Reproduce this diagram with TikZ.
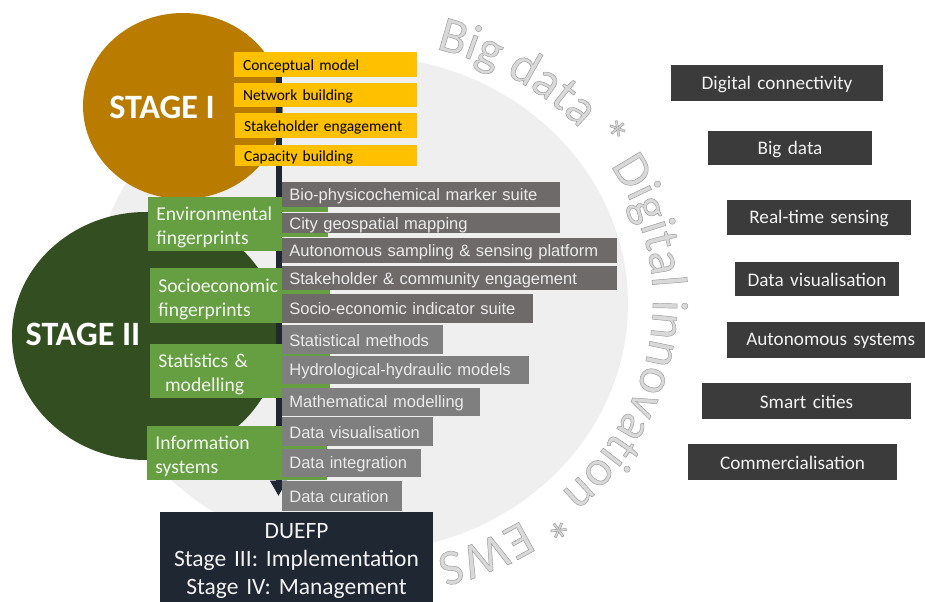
\documentclass[tikz,border=0pt]{standalone}
\usepackage{fontspec}
\setmainfont{Carlito}
\newfontfamily\barfont[WordSpace=1.5]{Liberation Sans}
\newfontfamily\yellowfont[WordSpace=1.3]{Carlito}
\newfontfamily\ringfont[RawFeature={embolden=0.9}]{Carlito}
\usetikzlibrary{decorations.text,arrows.meta}
\definecolor{goldc}{HTML}{B97C00}
\definecolor{forestc}{HTML}{334F21}
\definecolor{yellowc}{HTML}{FFC000}
\definecolor{greenc}{HTML}{659F41}
\definecolor{barA}{HTML}{6F6A6A}
\definecolor{barB}{HTML}{7F7F7F}
\definecolor{navyc}{HTML}{1F2733}
\definecolor{slatec}{HTML}{3B3B3B}
\definecolor{ringc}{HTML}{EFEFEF}
\newcommand{\bx}[7]{% name x1 y1 x2 y2 style text
  \path[#6] (#2,#3) rectangle (#4,#5);
  \node[#6,fill=none,text width={(#4-#2)*0.75pt-2*\pgfkeysvalueof{/pgf/inner xsep}},at={({(#2+#4)/2},{(#3+#5)/2+\boxdrop})}] (#1) {#7};}
\tikzset{
  base/.style={inner ysep=0pt,outer sep=0pt,draw=none},
  yellowbox/.style={base,fill=yellowc,inner xsep=6.8pt,align=left,text=black,/utils/exec={\def\boxdrop{1.6}},font=\yellowfont\fontsize{11.6}{13}\selectfont},
  greenbox/.style={base,fill=greenc,inner xsep=6.3pt,align=left,text=white!92!greenc,/utils/exec={\def\boxdrop{3.5}},font=\fontsize{14.7}{18}\selectfont},
  barbox/.style={base,inner xsep=5.5pt,align=left,text=white!92!black,/utils/exec={\def\boxdrop{2.2}},font=\barfont\fontsize{12.4}{14}\selectfont},
  barone/.style={barbox,fill=barA},
  barlow/.style={barbox,fill=barA,/utils/exec={\def\boxdrop{0.5}}},
  bartwo/.style={barbox,fill=barB,/utils/exec={\def\boxdrop{0.8}}},
  rightbox/.style={base,fill=slatec,inner xsep=0pt,align=center,text=white!95!black,/utils/exec={\def\boxdrop{1}},font=\fontsize{14.4}{16}\selectfont},
  duefpbox/.style={base,fill=navyc,inner xsep=0pt,align=center,text=white!95!black,/utils/exec={\def\boxdrop{4}},font=\fontsize{17.6}{21.3}\selectfont},
  stagelabel/.style={text=white,font=\bfseries\fontsize{25.6}{28}\selectfont,inner sep=0pt},
  flowline/.style={navyc,line width=4.5pt,-{Triangle[length=11.5pt,width=12pt]}},
  underl/.style={greenc}
}
\begin{document}
\begin{tikzpicture}[x=0.75pt,y=-0.75pt]
\useasboundingbox (0,0) rectangle (925,602);
\fill[ringc] (360,304) ellipse [x radius=268,y radius=-248];
\fill[goldc] (183,106) ellipse [x radius=100,y radius=-93];
\fill[forestc] (146,336) ellipse [x radius=134,y radius=-124];
\node[stagelabel] (s1) at (162,107) {STAGE I};
\node[stagelabel] (s2) at (83,334) {STAGE II};
% ring text
\path[postaction={decorate,decoration={text along path,text align=center,
  text={|\ringfont\fontsize{38}{40}\selectfont\special{pdf:bcolor [0.85] [0.6]}|Big data * Digital innovation * EWS}}}]
  plot[samples=150,domain=78:-78,variable=\t] ({360+293*cos(\t)},{302-262*sin(\t)});
% flow arrow
\coordinate (flowtop) at (278.5,77);
\coordinate (flowend) at (278.5,496);
\draw[flowline] (flowtop) -- (flowend);
% yellow
\bx{y1}{234}{52}{417}{77}{yellowbox}{Conceptual model}
\bx{y2}{234}{83}{417}{107}{yellowbox}{Network building}
\bx{y3}{235}{113}{417}{138}{yellowbox}{Stakeholder engagement}
\bx{y4}{235}{145}{417}{166}{yellowbox}{Capacity building}
% green underlines
\fill[underl] (282,207) rectangle (328,212);
\fill[underl] (282,233) rectangle (328,237);
\fill[underl] (282,290) rectangle (330,294);
\fill[underl] (282,354) rectangle (330,357);
\fill[underl] (282,384) rectangle (330,388);
\fill[underl] (282,446) rectangle (327,449);
\fill[underl] (282,477) rectangle (327,480);
% green
\bx{g1}{148}{197}{282}{251}{greenbox}{Environmental\\fingerprints}
\bx{g2}{150}{268}{282}{323}{greenbox}{Socioeconomic\\fingerprints}
\bx{g3}{150}{344}{282}{398}{greenbox}{Statistics \&\\[0pt]\hspace*{5pt}modelling}
\bx{g4}{147}{426}{282}{480}{greenbox}{Information\\systems}
% bars
\bx{b1}{282}{182}{560}{207}{barone}{Bio-physicochemical marker suite}
\bx{b2}{282}{213}{560}{233}{barone}{City geospatial mapping}
\bx{b3}{282}{238}{617}{263}{barone}{Autonomous sampling \& sensing platform}
\bx{b4}{282}{266}{617}{290}{barone}{Stakeholder \& community engagement}
\bx{b5}{282}{294}{533}{323}{barlow}{Socio-economic indicator suite}
\bx{b6}{282}{325}{443}{354}{bartwo}{Statistical methods}
\bx{b7}{282}{356}{529}{384}{bartwo}{Hydrological-hydraulic models}
\bx{b8}{282}{388}{480}{416}{bartwo}{Mathematical modelling}
\bx{b9}{282}{417}{433}{446}{bartwo}{Data visualisation}
\bx{b10}{282}{449}{421}{477}{bartwo}{Data integration}
\bx{b11}{282}{481}{402}{511}{bartwo}{Data curation}
% DUEFP
\bx{duefp}{160}{512}{433}{602}{duefpbox}{DUEFP\\Stage III: Implementation\\Stage IV: Management}
% right
\bx{r1}{671}{65}{883}{101}{rightbox}{Digital connectivity}
\bx{r2}{708}{131}{872}{165}{rightbox}{Big data}
\bx{r3}{727}{200}{911}{235}{rightbox}{Real-time sensing}
\bx{r4}{735}{262}{899}{296}{rightbox}{Data visualisation}
\bx{r5}{727}{322}{925}{358}{rightbox}{\hspace*{7pt}Autonomous systems}
\bx{r6}{702}{383}{911}{419}{rightbox}{Smart cities}
\bx{r7}{688}{444}{897}{480}{rightbox}{Commercialisation}
\end{tikzpicture}
\end{document}
